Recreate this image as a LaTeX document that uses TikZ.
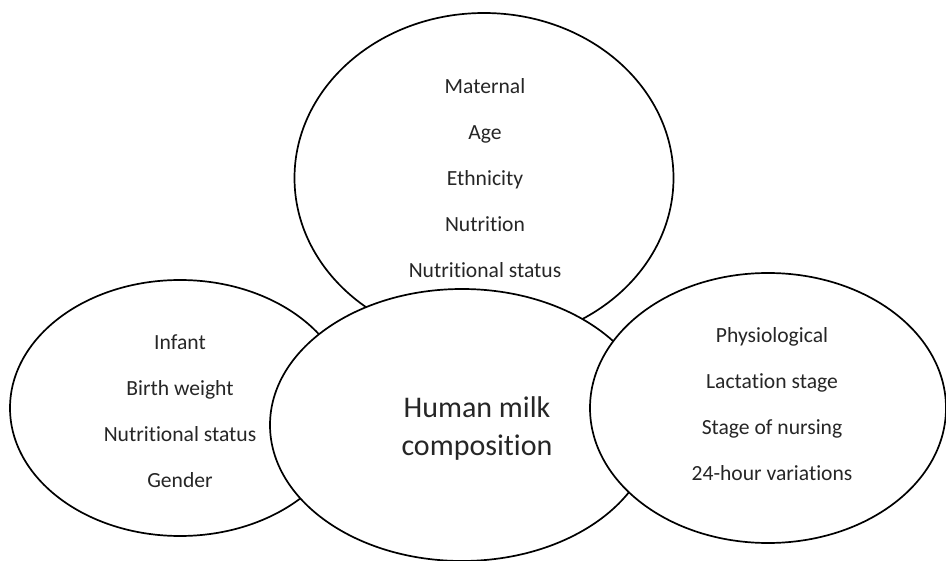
\documentclass[tikz,border=0pt]{standalone}
\usepackage{fontspec}
\setmainfont{Carlito}[Ligatures=NoCommon]
\usetikzlibrary{shapes.geometric}
\definecolor{inkgray}{HTML}{262626}
\tikzset{
    blob/.style={draw, ellipse, fill=white, line width=1.7pt, inner sep=0pt},
    items/.style={align=center, text=inkgray, font=\fontsize{21.6}{46}\selectfont},
    title/.style={align=center, text=inkgray, font=\fontsize{30}{38}\selectfont}
}
\begin{document}
\begin{tikzpicture}[x=1pt, y=-1pt]
    \useasboundingbox (0,0) rectangle (946,561);
    \node[blob, minimum width=379pt, minimum height=330pt] (mat) at (484,178) {};
    \node[blob, minimum width=340pt, minimum height=256pt] (inf) at (180,408) {};
    \node[blob, minimum width=384pt, minimum height=272pt] (hmc) at (462,425) {};
    \node[blob, minimum width=356pt, minimum height=270pt] (phy) at (768,408) {};
    \node[items] (mattxt) at ([shift={(1,0)}]mat.center) {Maternal\\Age\\Ethnicity\\Nutrition\\Nutritional status};
    \node[items] (inftxt) at ([shift={(0,3.5)}]inf.center) {Infant\\Birth weight\\Nutritional status\\Gender};
    \node[items] (phytxt) at ([shift={(4,-3.5)}]phy.center) {Physiological\\Lactation stage\\Stage of nursing\\24-hour variations};
    \node[title] (hmctxt) at ([shift={(15,4)}]hmc.center) {Human milk\\composition};
\end{tikzpicture}
\end{document}
